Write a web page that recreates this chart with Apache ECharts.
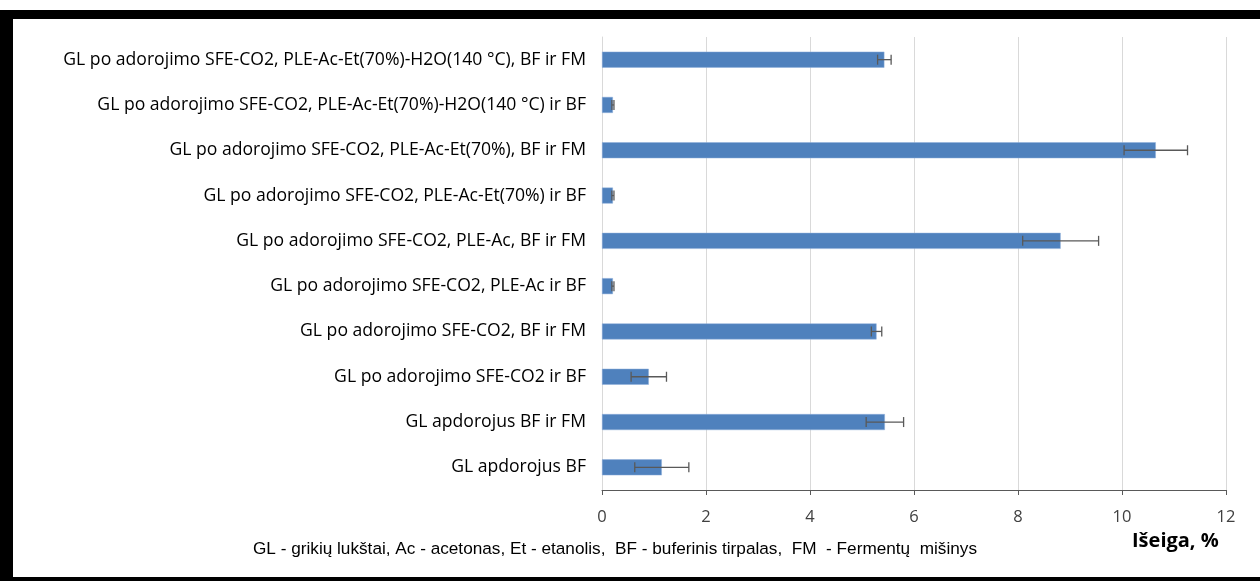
<!DOCTYPE html>
<html>
<head>
<meta charset="utf-8">
<script src="https://cdn.jsdelivr.net/npm/echarts@6/dist/echarts.min.js"></script>
<style>
html,body{margin:0;padding:0;background:#fff;}
#c{width:1260px;height:581px;}
</style>
</head>
<body>
<div id="c"></div>
<script>
// Categories listed bottom-to-top
const categories = [
  "GL apdorojus BF",
  "GL apdorojus BF ir FM",
  "GL po adorojimo SFE-CO2 ir BF",
  "GL po adorojimo SFE-CO2, BF ir FM",
  "GL po adorojimo SFE-CO2, PLE-Ac ir BF",
  "GL po adorojimo SFE-CO2, PLE-Ac, BF ir FM",
  "GL po adorojimo SFE-CO2, PLE-Ac-Et(70%) ir BF",
  "GL po adorojimo SFE-CO2, PLE-Ac-Et(70%), BF ir FM",
  "GL po adorojimo SFE-CO2, PLE-Ac-Et(70%)-H2O(140 °C) ir BF",
  "GL po adorojimo SFE-CO2, PLE-Ac-Et(70%)-H2O(140 °C), BF ir FM"
];
const yieldValues = [1.15, 5.44, 0.90, 5.28, 0.21, 8.82, 0.21, 10.65, 0.21, 5.43];
const yieldErrors = [0.52, 0.36, 0.34, 0.10, 0.02, 0.73, 0.02, 0.61, 0.02, 0.13];
const xTicks = [0, 2, 4, 6, 8, 10, 12];
const axisTitle = "Išeiga, %";
const footnote = "GL - grikių lukštai, Ac - acetonas, Et - etanolis,  BF - buferinis tirpalas,  FM  - Fermentų  mišinys";

const errData = categories.map((c, i) => [i, yieldValues[i] - yieldErrors[i], yieldValues[i] + yieldErrors[i]]);

const chart = echarts.init(document.getElementById('c'), null, {renderer: 'canvas'});
chart.setOption({
  animation: false,
  backgroundColor: '#ffffff',
  grid: {left: 602, right: 34, top: 37, bottom: 91, containLabel: false},
  xAxis: {
    type: 'value',
    min: xTicks[0],
    max: xTicks[xTicks.length - 1],
    interval: xTicks[1] - xTicks[0],
    axisLine: {show: true, lineStyle: {color: '#595959', width: 1}},
    axisTick: {show: true, length: 5, lineStyle: {color: '#595959'}},
    axisLabel: {color: '#404040', fontFamily: 'Open Sans', fontSize: 16.5, margin: 19},
    splitLine: {show: true, lineStyle: {color: '#d9d9d9', width: 1}}
  },
  yAxis: {
    type: 'category',
    data: categories,
    axisLine: {show: true, lineStyle: {color: '#d9d9d9'}},
    axisTick: {show: false},
    axisLabel: {color: '#000000', fontFamily: 'Open Sans', fontSize: 17.6, margin: 16}
  },
  series: [
    {
      type: 'bar',
      data: yieldValues,
      barWidth: 16,
      itemStyle: {color: '#4F81BD', borderColor: '#8eaedb', borderWidth: 0.5}
    },
    {
      type: 'custom',
      data: errData,
      z: 10,
      renderItem: function (params, api) {
        const cat = api.value(0);
        const lo = api.coord([api.value(1), cat]);
        const hi = api.coord([api.value(2), cat]);
        const h = 5;
        const style = {stroke: '#595959', lineWidth: 1.3};
        return {
          type: 'group',
          children: [
            {type: 'line', shape: {x1: lo[0], y1: lo[1], x2: hi[0], y2: hi[1]}, style: style},
            {type: 'line', shape: {x1: lo[0], y1: lo[1] - h, x2: lo[0], y2: lo[1] + h}, style: style},
            {type: 'line', shape: {x1: hi[0], y1: hi[1] - h, x2: hi[0], y2: hi[1] + h}, style: style}
          ]
        };
      },
      encode: {x: [1, 2], y: 0}
    }
  ],
  graphic: [
    {type: 'rect', shape: {x: 0, y: 10, width: 1260, height: 9}, style: {fill: '#000'}},
    {type: 'rect', shape: {x: 0, y: 10, width: 13, height: 571}, style: {fill: '#000'}},
    {type: 'rect', shape: {x: 0, y: 577, width: 1260, height: 4}, style: {fill: '#000'}},
    {type: 'text', left: 1132, top: 531, style: {text: axisTitle, font: 'bold 20px "Open Sans"', fill: '#000'}},
    {type: 'text', left: 253, top: 541, style: {text: footnote, font: '17.2px "Liberation Sans"', fill: '#000'}}
  ]
});
</script>
</body>
</html>
